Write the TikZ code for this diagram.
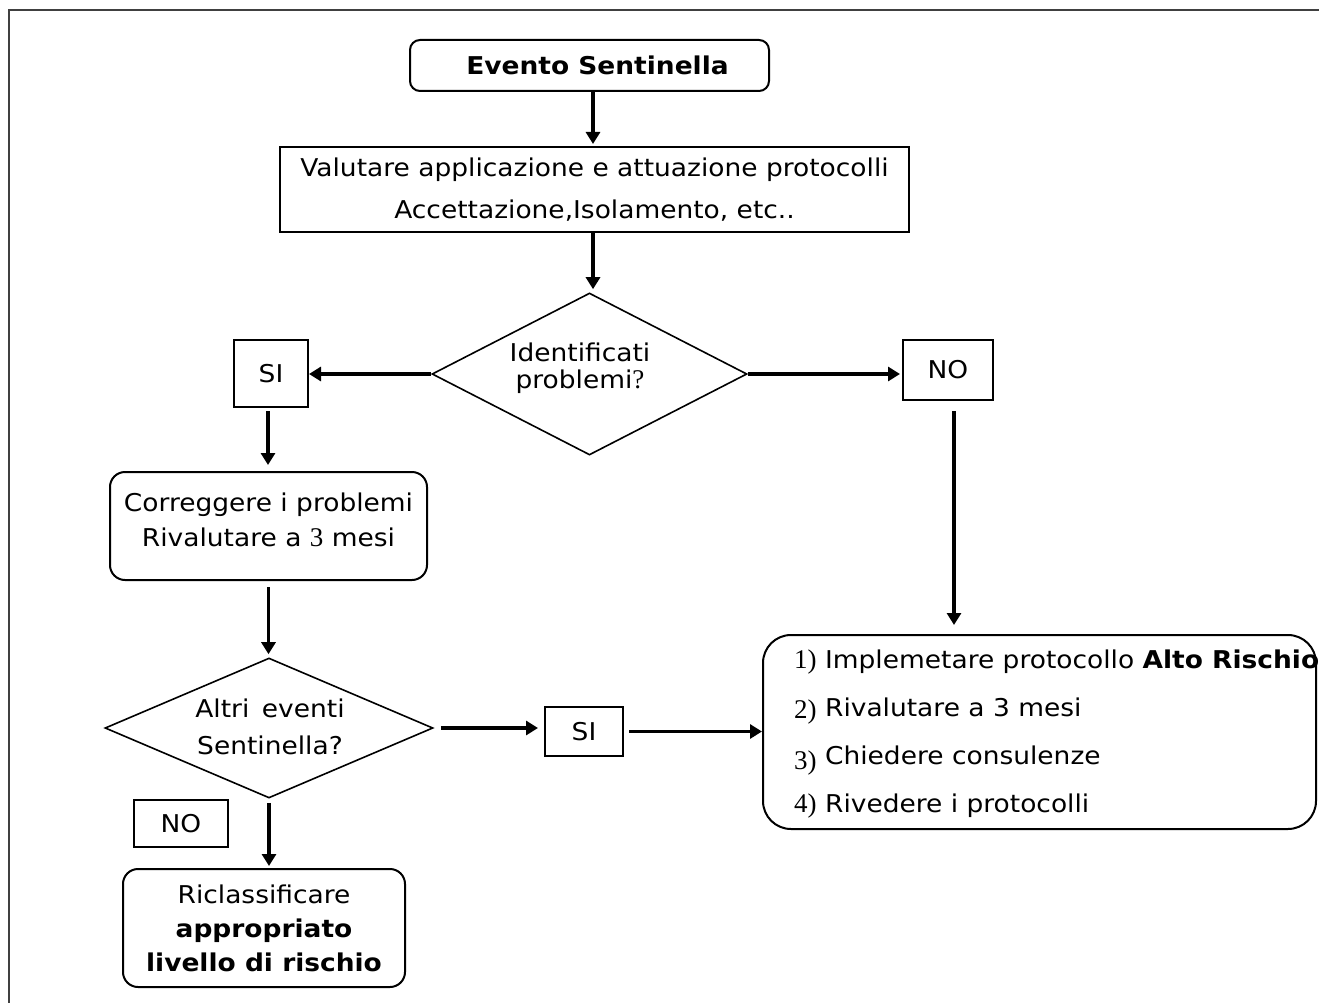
\documentclass[tikz,border=0pt]{standalone}
\usepackage{fontspec}
\setmainfont{DejaVu Sans}[FakeStretch=1.08]
\newfontfamily\serifnum{Liberation Serif}
\usetikzlibrary{arrows.meta,shapes.geometric}
\newcommand\fsz[1]{\fontsize{24.5}{#1}\selectfont}
\newcommand\snum[1]{{\fontsize{27}{27}\serifnum #1}}
\begin{document}
\begin{tikzpicture}[x=1pt,y=-1pt,
  every node/.style={inner sep=0pt, font=\fsz{30}},
  rbox/.style={draw, line width=2pt, rounded corners=#1, align=center},
  rbox/.default=14pt,
  sbox/.style={draw, line width=2pt, align=center},
  dia/.style={draw, diamond, line width=1.6pt, aspect=2},
  arr/.style={line width=3.3pt, -{Triangle[width=14pt,length=12pt]}},
]
\useasboundingbox (0,0) rectangle (1319,1003);
% outer frame
\draw[line width=2.2pt, black!75] (9,1010) -- (9,10) -- (1330,10);

% nodes
\node[rbox=10pt, minimum width=359pt, minimum height=51pt, font=\fsz{30}\bfseries] (ev) at (589.5,65.5) {\hspace*{16pt}Evento Sentinella};
\node[sbox, minimum width=629pt, minimum height=85pt, font=\fsz{42}] (val) at (594.5,189.5)
  {Valutare applicazione e attuazione protocolli\\Accettazione,Isolamento, etc..};
\node[dia, minimum width=315pt, minimum height=162pt] (d1) at (589.5,374) {};
\node[font=\fsz{27}, align=center] (d1t) at (580,368) {Identificati\\problemi\snum{?}};
\node[sbox, minimum width=74pt, minimum height=67pt] (si1) at (271,373.5) {SI};
\node[sbox, minimum width=90pt, minimum height=60pt] (no1) at (948,370) {NO};
\node[rbox=15pt, minimum width=317pt, minimum height=108pt, font=\fsz{35}] (corr) at (268.5,526)
  {Correggere i problemi\\Rivalutare a \snum{3} mesi\\[-22pt]\mbox{}};
\node[dia, minimum width=328pt, minimum height=140pt] (d2) at (269,728) {};
\node[font=\fsz{37}, align=center] (d2t) at (270,727) {Altri\, eventi\\Sentinella?};
\node[sbox, minimum width=78pt, minimum height=49pt] (si2) at (584,731.5) {SI};
\node[rbox=28pt, minimum width=553pt, minimum height=194pt] (big) at (1039.5,732) {};
\node[anchor=west, align=left, font=\fsz{48}] (bigt) at ([xshift=32pt,yshift=-2pt]big.west)
  {\snum{1)} Implemetare protocollo \textbf{Alto Rischio}\\
   \snum{\raisebox{-2pt}{2)}} Rivalutare a 3 mesi\\
   \snum{\raisebox{-5pt}{3)}} Chiedere consulenze\\
   \snum{4)} Rivedere i protocolli};
\node[sbox, minimum width=94pt, minimum height=47pt] (no2) at (181,823.5) {NO};
\node[rbox=15pt, minimum width=282pt, minimum height=118pt, font=\fsz{34}] (ric) at (264,928)
  {Riclassificare\\\textbf{appropriato}\\\textbf{livello di rischio}};

% connectors
\draw[arr, shorten >=2pt] ([xshift=3.5pt]ev.south) -- ([xshift=3.5pt]ev.south |- val.north);
\draw[arr, shorten >=3pt] ([xshift=-1.5pt]val.south) -- ([xshift=-1.5pt]val.south |- d1.north);
\draw[arr] (d1.west) -- (d1.west -| si1.east);
\draw[arr, shorten >=2pt] (d1.east) -- (d1.east -| no1.west);
\draw[arr, shorten <=3pt, shorten >=6pt] ([xshift=-3pt]si1.south) -- ([xshift=-3pt]si1.south |- corr.north);
\draw[arr, shorten <=10pt, shorten >=9pt] ([xshift=6pt]no1.south) -- ([xshift=6pt]no1.south |- big.north);
\draw[arr, shorten <=6pt, shorten >=3pt] (corr.south) -- (corr.south |- d2.north);
\draw[arr, shorten <=7pt, shorten >=6pt] (d2.east) -- (d2.east -| si2.west);
\draw[arr, shorten <=5pt] (si2.east) -- (si2.east -| big.west);
\draw[arr, shorten <=4pt, shorten >=2pt] (d2.south) -- (d2.south |- ric.north);
\end{tikzpicture}
\end{document}
